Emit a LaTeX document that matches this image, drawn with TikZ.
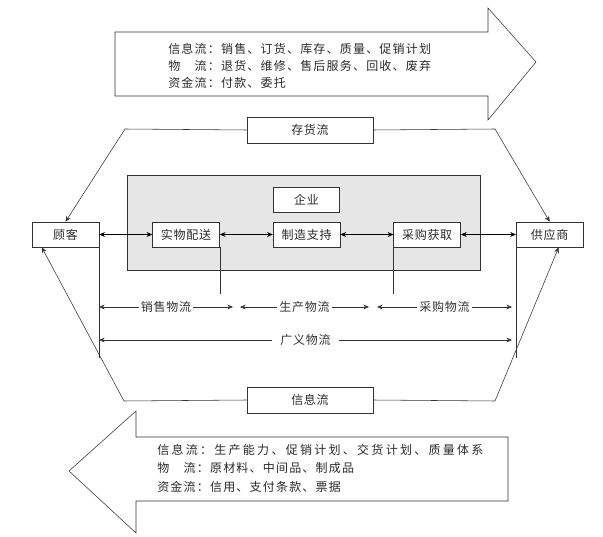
\documentclass[tikz,border=0pt]{standalone}
\usepackage{fontspec}
\setmainfont{Noto Sans CJK SC}[LetterSpace=6]
\newfontfamily\flowfont{Noto Sans CJK SC}[LetterSpace=10]
\newfontfamily\widefont{Noto Sans CJK SC}[LetterSpace=19]
\usepackage{xcolor}
\usepackage{tikz}
\usetikzlibrary{positioning, arrows.meta, calc}
\definecolor{entgray}{HTML}{E6E6E6}
\definecolor{edgegray}{HTML}{333333}
\definecolor{textgray}{HTML}{2A2A2A}

\begin{document}
\begin{tikzpicture}[x=1pt, y=-1pt, font=\fontsize{12}{17}\selectfont, text=textgray, line width=0.55pt,
  box/.style={draw=edgegray, fill=white, minimum width=67pt, minimum height=25pt, inner sep=0pt},
  tag/.style={fill=white, inner sep=2pt},
  flowtext/.style={anchor=base west, inner sep=0pt, font=\flowfont\fontsize{12}{17}\selectfont},
  widetext/.style={anchor=base west, inner sep=0pt, font=\widefont\fontsize{12}{17}\selectfont},
  tip/.style={-{Stealth[length=2mm, width=1.7mm]}},
  both/.style={{Stealth[length=2mm, width=1.7mm]}-{Stealth[length=2mm, width=1.7mm]}}]
  \useasboundingbox (0,0) rectangle (603,537);

  % big block arrows
  \draw[edgegray, fill=white] (115,32) -- (488,32) -- (488,8) -- (536,62) -- (488,120) -- (488,96) -- (115,96) -- cycle;
  \draw[edgegray, fill=white] (508,437) -- (136,437) -- (136,411) -- (69,471) -- (136,533) -- (136,501) -- (508,501) -- cycle;
  \node[flowtext] (up1) at (168,53.5) {信息流：销售、订货、库存、质量、促销计划};
  \node[flowtext] (up2) at (168,70.5) {物　流：退货、维修、售后服务、回收、废弃};
  \node[flowtext] (up3) at (168,87.5) {资金流：付款、委托};
  \node[widetext] (dn1) at (157,454.5) {信息流：生产能力、促销计划、交货计划、质量体系};
  \node[flowtext] (dn2) at (157,472.5) {物　流：原材料、中间品、制成品};
  \node[flowtext] (dn3) at (157,491.5) {资金流：信用、支付条款、票据};

  % enterprise
  \node[draw=edgegray, fill=entgray, minimum width=353pt, minimum height=95pt] (qy) at (303.5,222.5) {};
  \node[box] (gk) at (65.5,234.5) {顾客};
  \node[box, right=53pt of gk] (swps) {实物配送};
  \node[box, right=53pt of swps] (zzzc) {制造支持};
  \node[box, right=53pt of zzzc] (cghq) {采购获取};
  \node[box, right=55pt of cghq] (gys) {供应商};
  \node[box, minimum width=66pt, above=9pt of zzzc] (qylabel) {企业};
  \draw[both] (gk) -- (swps);
  \draw[both] (swps) -- (zzzc);
  \draw[both] (zzzc) -- (cghq);
  \draw[both] (cghq) -- (gys);

  % stock and information flow
  \node[box, minimum width=126pt, minimum height=26pt] (chl) at (310,130) {存货流};
  \node[box, minimum width=126pt, minimum height=26pt] (xxl) at (310,400) {信息流};
  \coordinate (chlL) at (125,129);
  \coordinate (chlR) at (495,129);
  \coordinate (xxlL) at (124,401);
  \coordinate (xxlR) at (495,401);
  \draw[tip, edgegray] (chl.west) -- (chlL) -- (gk.north);
  \draw[tip, edgegray] (chl.east) -- (chlR) -- (gys.north);
  \draw[tip, edgegray] (xxl.west) -- (xxlL) -- ([xshift=10pt]gk.south west);
  \draw[tip, edgegray] (xxl.east) -- (xxlR) -- ([xshift=9pt]gys.south);

  % logistics ranges
  \draw[edgegray] (gk.south east) -- ++(0,111);
  \draw[edgegray] (gys.south west) -- ++(0,111);
  \draw[edgegray] (swps.south east) -- ++(0,47);
  \draw[edgegray] (cghq.south west) -- ++(0,47);
  \coordinate (xs0) at (99,307);
  \coordinate (xs1) at (233,307);
  \coordinate (sc0) at (240,307);
  \coordinate (sc1) at (369,307);
  \coordinate (cg0) at (377,307);
  \coordinate (cg1) at (512,307);
  \coordinate (gy0) at (99,340);
  \coordinate (gy1) at (512,340);
  \draw[both, edgegray] (xs0) -- node[tag] (xslabel) {销售物流} (xs1);
  \draw[both, edgegray] (sc0) -- node[tag] (sclabel) {生产物流} (sc1);
  \draw[both, edgegray] (cg0) -- node[tag] (cglabel) {采购物流} (cg1);
  \draw[both, edgegray] (gy0) -- node[tag, inner xsep=8pt] (gylabel) {广义物流} (gy1);
\end{tikzpicture}
\end{document}
